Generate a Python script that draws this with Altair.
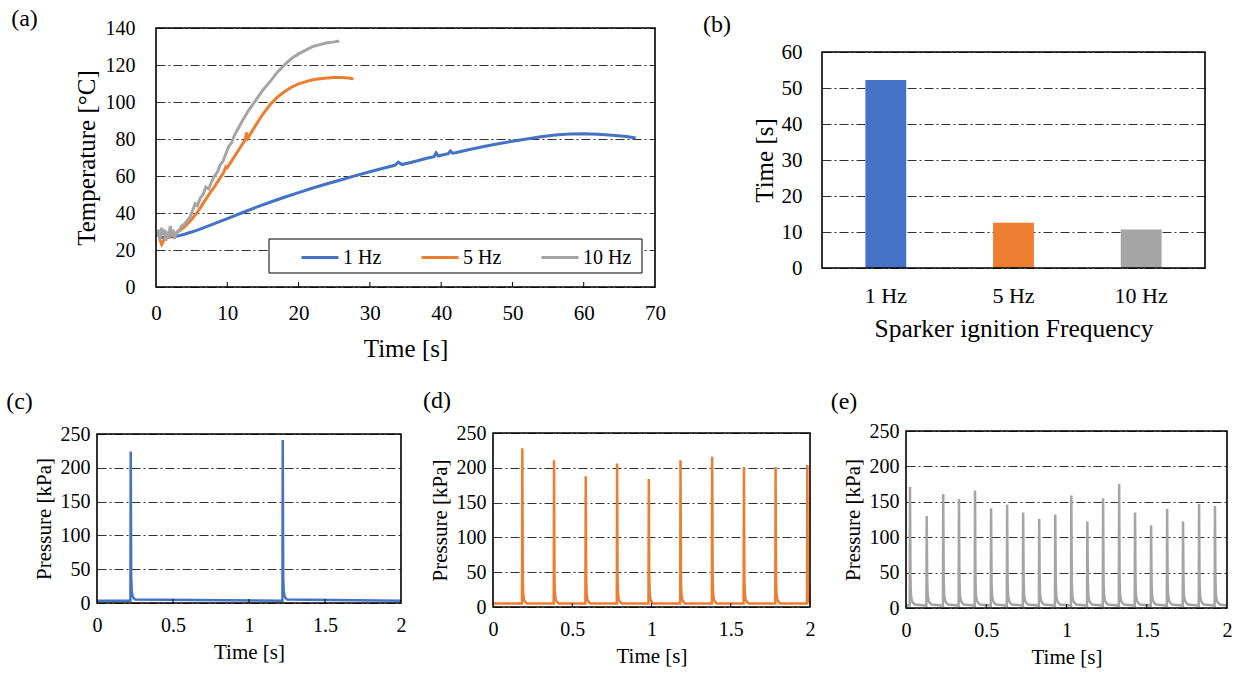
import altair as alt
import pandas as pd

FONT = "Liberation Serif"
SERIES = ["1 Hz", "5 Hz", "10 Hz"]
COLORS = ["#4472C4", "#ED7D31", "#A5A5A5"]
GRID_DASH = [9, 3, 2, 3]
GRID_COLOR = "#333333"

# ---------------- (a) temperature curves ----------------
A_T_1HZ = [0.3, 1, 2, 3, 4, 5, 6, 7, 8, 9, 10, 12, 14, 16, 18, 20, 22, 24, 26, 28, 30, 32,
           33.5, 34, 34.5, 36, 38, 39, 39.3, 39.6, 40, 41, 41.3, 41.6, 42, 44, 46, 48, 50,
           52, 54, 56, 58, 60, 62, 64, 66, 67.3]
A_Y_1HZ = [27, 26.8, 27, 27.5, 28.5, 29.7, 31, 32.5, 34, 35.5, 37, 40, 43, 45.8, 48.5, 51,
           53.5, 55.8, 58, 60.2, 62.3, 64.3, 65.8, 67.5, 66.2, 67.6, 69.6, 70.4, 72.5, 70.8,
           71.2, 72.1, 73.5, 72.3, 72.6, 74.3, 75.9, 77.4, 78.8, 80, 81.2, 82.2, 82.7, 82.8,
           82.6, 82, 81.3, 80.5]
A_T_5HZ = [0.5, 0.8, 1.2, 1.6, 2, 2.5, 3, 3.5, 4, 4.5, 5, 5.5, 6, 6.5, 7, 7.5, 8, 8.5, 9,
           9.5, 9.8, 10, 10.5, 11, 11.5, 12, 12.5, 12.7, 12.9, 13.2, 14, 15, 16, 17, 18, 19,
           20, 21, 22, 23, 24, 25, 26, 27, 27.7]
A_Y_5HZ = [26, 23, 26, 27, 27.5, 28.5, 29.5, 31, 32.5, 34.5, 36.5, 39, 41.5, 44.5, 47.5,
           50.5, 53, 56, 59, 62, 65, 64.5, 67.5, 70.5, 73.5, 76.5, 79.5, 83.5, 80.5, 82.5,
           87.5, 93.5, 98.5, 102.5, 105.5, 108, 109.8, 111, 112, 112.6, 113, 113.2, 113.3,
           113, 112.5]
A_T_10HZ = [0.2, 0.4, 0.6, 0.8, 1.0, 1.2, 1.4, 1.6, 1.8, 2.0, 2.2, 2.4, 2.6, 2.8, 3.0, 3.3,
            3.6, 4.0, 4.4, 4.8, 5.2, 5.5, 5.8, 6.2, 6.6, 7.0, 7.4, 7.8, 8.2, 8.6, 9.0, 9.4,
            9.8, 10.2, 10.6, 11, 12, 13, 14, 15, 16, 17, 18, 19, 20, 21, 22, 23, 24, 25, 25.7]
A_Y_10HZ = [27, 31, 26, 32, 28, 31, 25, 30, 27, 33, 28, 31, 26, 29, 30, 31, 33, 34, 36, 38,
            42, 45, 44, 48, 50, 54, 53, 57, 60, 62, 66, 68, 72, 76, 78, 82, 89, 95.5, 101,
            106.5, 111, 116, 120, 123.5, 126, 128, 130, 131, 132, 132.5, 133]
A_X_TICKS = [0, 10, 20, 30, 40, 50, 60, 70]
A_Y_TICKS = [0, 20, 40, 60, 80, 100, 120, 140]

# ---------------- (b) bar chart ----------------
B_TIME = [52.2, 12.6, 10.7]
B_Y_TICKS = [0, 10, 20, 30, 40, 50, 60]

# ---------------- (c)-(e) pressure traces ----------------
C_SPIKE_T = [0.222, 1.222]
C_SPIKE_P = [224, 241]
D_SPIKE_T = [0.185, 0.385, 0.585, 0.783, 0.983, 1.183, 1.383, 1.583, 1.783, 1.983]
D_SPIKE_P = [228, 211, 188, 206, 184, 211, 216, 201, 201, 204]
E_SPIKE_T = [0.025, 0.129, 0.232, 0.330, 0.430, 0.530, 0.630, 0.730, 0.830, 0.930, 1.030,
             1.130, 1.228, 1.328, 1.427, 1.527, 1.627, 1.726, 1.826, 1.925]
E_SPIKE_P = [171, 130, 161, 154, 166, 141, 146, 135, 126, 132, 159, 122, 155, 175, 135,
             117, 140, 122, 147, 144]
BASE_P = [3.5, 5.0, 3.5]
TAIL_DT = [0.003, 0.006, 0.012, 0.02, 0.03]
TAIL_P = [40, 18, 10, 7, 5]
P_X_TICKS = [0, 0.5, 1, 1.5, 2]
P_Y_TICKS = [0, 50, 100, 150, 200, 250]

# ---------------- layout (cell = panel view, plot = frame inside it) ----------------
CELL_A, PLOT_A = (0, 0, 690, 370), (156, 28, 655, 287)
CELL_B, PLOT_B = (690, 0, 545, 370), (132, 52, 515, 268)
CELL_C, PLOT_C = (0, 370, 415, 303), (97, 64, 401, 233)
CELL_D, PLOT_D = (415, 370, 410, 303), (78, 63, 395, 237)
CELL_E, PLOT_E = (825, 370, 410, 303), (81, 61, 402, 238)


def one_row():
    return alt.Data(values=[{"a": 0}])


def panel_label(text, pos):
    return alt.Chart(one_row()).mark_text(
        text=text, font=FONT, fontSize=24, align="center", baseline="middle", color="black"
    ).encode(x=alt.value(pos[0]), y=alt.value(pos[1]))


def axis_kw(lab_size, lab_pad, tit_size, tit_pad, offset, **extra):
    kw = dict(labelFont=FONT, titleFont=FONT, labelFontSize=lab_size, labelPadding=lab_pad,
              titleFontSize=tit_size, titlePadding=tit_pad, offset=offset,
              labelColor="black", titleColor="black", titleFontWeight="normal",
              domain=False, ticks=False, labelFlush=False, labelOverlap=False, grid=False)
    kw.update(extra)
    return kw


GRID_KW = dict(grid=True, gridDash=GRID_DASH, gridColor=GRID_COLOR, gridWidth=1)


def frame(xdom, ydom, xs, ys):
    return alt.Chart(one_row()).mark_rect(fill=None, stroke="black", strokeWidth=1.6).encode(
        x=alt.X(datum=xdom[0], scale=xs), x2=alt.X2(datum=xdom[1]),
        y=alt.Y(datum=ydom[0], scale=ys), y2=alt.Y2(datum=ydom[1]))


def inner_ticks(values, field, X, ys, length=5):
    df = pd.DataFrame({field: values})
    return alt.Chart(df).mark_rule(color="black", strokeWidth=1, y2Offset=-length).encode(
        x=X, y=alt.Y(datum=0, scale=ys), y2=alt.Y2(datum=0))


# ---------- panel (a) ----------
cw, ch = CELL_A[2], CELL_A[3]
L, T, R, B = PLOT_A
rows = []
for name, ts, ys in zip(SERIES, [A_T_1HZ, A_T_5HZ, A_T_10HZ], [A_Y_1HZ, A_Y_5HZ, A_Y_10HZ]):
    for i, (t, y) in enumerate(zip(ts, ys)):
        rows.append({"series": name, "t": t, "T": y, "i": i})
df_a = pd.DataFrame(rows)

a_xs = alt.Scale(domain=[0, 70], nice=False, range=[L, R])
a_ys = alt.Scale(domain=[0, 140], nice=False, range=[B, T])
a_x = alt.X("t:Q", scale=a_xs,
            axis=alt.Axis(values=A_X_TICKS, title="Time [s]",
                          **axis_kw(21, 15, 25, 13, B - ch)))
a_y = alt.Y("T:Q", scale=a_ys,
            axis=alt.Axis(values=A_Y_TICKS, title="Temperature [°C]",
                          **axis_kw(20, 21, 25, 6, -L, **GRID_KW)))
a_lines = alt.Chart(df_a).mark_line(strokeWidth=3).encode(
    x=a_x, y=a_y, order="i:Q",
    color=alt.Color("series:N", sort=SERIES, scale=alt.Scale(domain=SERIES, range=COLORS),
                    legend=alt.Legend(orient="none", legendX=300, legendY=237.5,
                                      direction="horizontal", title=None, symbolType="stroke",
                                      symbolSize=1369, symbolStrokeWidth=3, labelFont=FONT,
                                      labelFontSize=20, labelColor="black", columnPadding=33,
                                      labelOffset=3, padding=0)))
a_box = alt.Chart(one_row()).mark_rect(fill="white", stroke="black", strokeWidth=1).encode(
    x=alt.value(269), x2=alt.value(642), y=alt.value(239), y2=alt.value(273))
panel_a = alt.layer(
    a_lines, inner_ticks(A_X_TICKS[1:-1], "t", a_x, a_ys), frame([0, 70], [0, 140], a_xs, a_ys),
    a_box, panel_label("(a)", (24.5, 19))
).properties(width=cw, height=ch)

# ---------- panel (b) ----------
cw, ch = CELL_B[2], CELL_B[3]
L, T, R, B = PLOT_B
df_b = pd.DataFrame({"f": SERIES, "v": B_TIME})
b_ys = alt.Scale(domain=[0, 60], nice=False, range=[B, T])
b_y = alt.Y("v:Q", scale=b_ys,
            axis=alt.Axis(values=B_Y_TICKS, title="Time [s]",
                          **axis_kw(21, 20, 25, 4, -L, **GRID_KW)))
b_bars = alt.Chart(df_b).mark_bar().encode(
    x=alt.X("f:N", sort=SERIES,
            scale=alt.Scale(paddingInner=0.68, paddingOuter=0.34, range=[L, R]),
            axis=alt.Axis(title="Sparker ignition Frequency", labelAngle=0,
                          **axis_kw(22, 17, 25.5, 10, B - ch))),
    y=b_y,
    color=alt.Color("f:N", scale=alt.Scale(domain=SERIES, range=COLORS), legend=None))
b_frame = alt.Chart(one_row()).mark_rect(fill=None, stroke="black", strokeWidth=1.6).encode(
    x=alt.value(L), x2=alt.value(R),
    y=alt.Y(datum=0, scale=b_ys), y2=alt.Y2(datum=60))
panel_b = alt.layer(b_bars, b_frame, panel_label("(b)", (27, 25))).properties(
    width=cw, height=ch)


# ---------- panels (c)-(e) ----------
def trace(spike_t, spike_p, base):
    rows = [{"t": 0.0, "p": base}]
    for t, p in zip(spike_t, spike_p):
        rows.append({"t": t - 0.002, "p": base})
        rows.append({"t": t, "p": p})
        for dt, v in zip(TAIL_DT, TAIL_P):
            if t + dt <= 2.0:
                rows.append({"t": t + dt, "p": max(v, base)})
    rows.append({"t": 2.0, "p": base})
    df = pd.DataFrame(rows)
    df["i"] = range(len(df))
    return df


def pressure_panel(spike_t, spike_p, base, color, cell, plot, label, label_pos):
    cw, ch = cell[2], cell[3]
    L, T, R, B = plot
    df = trace(spike_t, spike_p, base)
    xs = alt.Scale(domain=[0, 2], nice=False, range=[L, R])
    ys = alt.Scale(domain=[0, 250], nice=False, range=[B, T])
    x = alt.X("t:Q", scale=xs,
              axis=alt.Axis(values=P_X_TICKS, format="~g", title="Time [s]",
                            **axis_kw(20, 12, 21, 6, B - ch)))
    y = alt.Y("p:Q", scale=ys,
              axis=alt.Axis(values=P_Y_TICKS, title="Pressure [kPa]",
                            **axis_kw(20, 7, 21, 6, -L, **GRID_KW)))
    line = alt.Chart(df).mark_line(color=color, strokeWidth=2.5).encode(
        x=x, y=y, order="i:Q")
    return alt.layer(line, inner_ticks(P_X_TICKS[1:-1], "t", x, ys, 4),
                     frame([0, 2], [0, 250], xs, ys),
                     panel_label(label, label_pos)).properties(width=cw, height=ch)


panel_c = pressure_panel(C_SPIKE_T, C_SPIKE_P, BASE_P[0], COLORS[0], CELL_C, PLOT_C,
                         "(c)", (19.5, 32))
panel_d = pressure_panel(D_SPIKE_T, D_SPIKE_P, BASE_P[1], COLORS[1], CELL_D, PLOT_D,
                         "(d)", (22, 31))
panel_e = pressure_panel(E_SPIKE_T, E_SPIKE_P, BASE_P[2], COLORS[2], CELL_E, PLOT_E,
                         "(e)", (19, 32))

row1 = alt.hconcat(panel_a, panel_b, spacing=0, bounds="flush").resolve_scale(
    color="independent")
row2 = alt.hconcat(panel_c, panel_d, panel_e, spacing=0, bounds="flush")
chart = alt.vconcat(row1, row2, spacing=0).resolve_scale(color="independent").properties(
    padding=0, background="white"
).configure_view(stroke=None).configure_axis(
    labelFont=FONT, titleFont=FONT, labelColor="black", titleColor="black"
)

chart.save("out.html", embed_options={"renderer": "svg", "actions": False})
